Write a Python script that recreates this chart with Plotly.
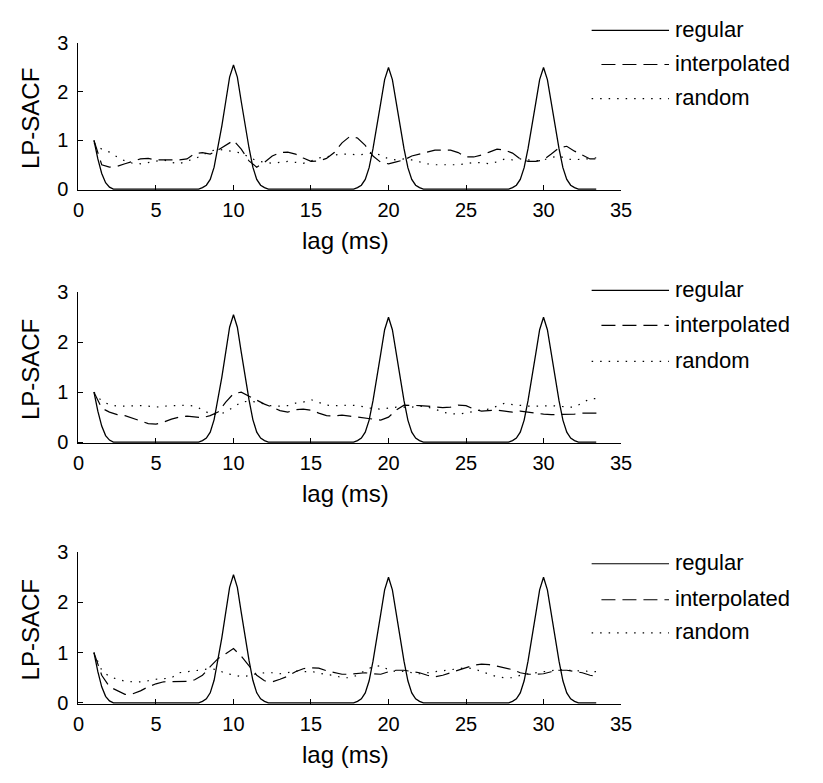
import plotly.graph_objects as go

W, H = 823, 783

# ---------------- data ----------------
# "regular" (same in all three panels)
reg_x = [1.0, 1.25, 1.5, 1.75, 2.0, 2.25,
         7.75, 8.0, 8.25, 8.5, 8.75, 9.0, 9.25, 9.5, 9.75, 10.0, 10.25, 10.5, 10.75, 11.0, 11.25, 11.5, 11.75, 12.0, 12.25,
         17.75, 18.0, 18.25, 18.5, 18.75, 19.0, 19.25, 19.5, 19.75, 20.0, 20.25, 20.5, 20.75, 21.0, 21.25, 21.5, 21.75, 22.0, 22.25,
         27.75, 28.0, 28.25, 28.5, 28.75, 29.0, 29.25, 29.5, 29.75, 30.0, 30.25, 30.5, 30.75, 31.0, 31.25, 31.5, 31.75, 32.0, 32.25,
         33.4]
reg_y = [1.0, 0.62, 0.32, 0.13, 0.04, 0.0,
         0.0, 0.03, 0.08, 0.2, 0.45, 0.85, 1.3, 1.8, 2.3, 2.55, 2.3, 1.8, 1.3, 0.85, 0.45, 0.2, 0.08, 0.03, 0.0,
         0.0, 0.03, 0.08, 0.2, 0.44, 0.83, 1.27, 1.77, 2.25, 2.5, 2.25, 1.77, 1.27, 0.83, 0.44, 0.2, 0.08, 0.03, 0.0,
         0.0, 0.03, 0.08, 0.2, 0.44, 0.83, 1.27, 1.77, 2.25, 2.5, 2.25, 1.77, 1.27, 0.83, 0.44, 0.2, 0.08, 0.03, 0.0,
         0.0]

lag = [1.0 + 0.5 * i for i in range(66)]  # 1.0 ... 33.5 ms

interp_1 = [1.0, 0.5, 0.45, 0.47, 0.52, 0.57, 0.62, 0.63, 0.6, 0.6,
            0.6, 0.6, 0.62, 0.73, 0.75, 0.72, 0.8, 0.9, 1.0, 0.82,
            0.58, 0.45, 0.55, 0.68, 0.75, 0.76, 0.72, 0.64, 0.57, 0.58,
            0.63, 0.75, 0.95, 1.08, 1.05, 0.9, 0.68, 0.55, 0.52, 0.56,
            0.6, 0.68, 0.72, 0.77, 0.8, 0.8, 0.8, 0.75, 0.66, 0.66,
            0.7, 0.76, 0.82, 0.8, 0.74, 0.62, 0.57, 0.57, 0.6, 0.72,
            0.85, 0.88, 0.78, 0.7, 0.62, 0.62]
random_1 = [0.95, 0.82, 0.76, 0.66, 0.58, 0.53, 0.52, 0.55, 0.58, 0.6,
            0.55, 0.52, 0.58, 0.62, 0.7, 0.78, 0.82, 0.8, 0.77, 0.74,
            0.66, 0.58, 0.55, 0.53, 0.55, 0.57, 0.55, 0.53, 0.58, 0.64,
            0.66, 0.7, 0.72, 0.72, 0.7, 0.72, 0.74, 0.7, 0.62, 0.6,
            0.62, 0.6, 0.56, 0.52, 0.5, 0.5, 0.5, 0.5, 0.52, 0.55,
            0.54, 0.52, 0.56, 0.62, 0.6, 0.62, 0.6, 0.58, 0.6, 0.65,
            0.68, 0.62, 0.6, 0.62, 0.62, 0.65]

interp_2 = [1.0, 0.68, 0.6, 0.55, 0.53, 0.48, 0.42, 0.37, 0.36, 0.4,
            0.46, 0.5, 0.52, 0.5, 0.49, 0.53, 0.6, 0.8, 0.97, 1.0,
            0.92, 0.84, 0.76, 0.7, 0.63, 0.6, 0.65, 0.66, 0.64, 0.58,
            0.53, 0.52, 0.54, 0.52, 0.5, 0.47, 0.45, 0.44, 0.5, 0.64,
            0.74, 0.74, 0.73, 0.72, 0.71, 0.69, 0.7, 0.74, 0.73, 0.66,
            0.62, 0.63, 0.64, 0.62, 0.6, 0.62, 0.6, 0.57, 0.56, 0.55,
            0.55, 0.55, 0.56, 0.58, 0.58, 0.58]
random_2 = [1.0, 0.82, 0.75, 0.72, 0.72, 0.73, 0.73, 0.72, 0.7, 0.72,
            0.73, 0.73, 0.74, 0.72, 0.65, 0.56, 0.55, 0.6, 0.7, 0.8,
            0.82, 0.8, 0.76, 0.72, 0.72, 0.73, 0.78, 0.8, 0.85, 0.8,
            0.74, 0.73, 0.74, 0.74, 0.73, 0.7, 0.67, 0.66, 0.68, 0.7,
            0.7, 0.7, 0.72, 0.7, 0.66, 0.6, 0.57, 0.56, 0.58, 0.62,
            0.65, 0.66, 0.72, 0.78, 0.75, 0.73, 0.72, 0.72, 0.73, 0.73,
            0.72, 0.7, 0.7, 0.78, 0.87, 0.87]

interp_3 = [1.0, 0.55, 0.32, 0.24, 0.17, 0.18, 0.24, 0.32, 0.38, 0.42,
            0.42, 0.42, 0.43, 0.46, 0.55, 0.72, 0.88, 0.98, 1.08, 0.93,
            0.75, 0.55, 0.44, 0.42, 0.47, 0.53, 0.62, 0.68, 0.7, 0.69,
            0.64, 0.6, 0.57, 0.57, 0.58, 0.6, 0.58, 0.57, 0.62, 0.65,
            0.65, 0.63, 0.6, 0.55, 0.52, 0.55, 0.6, 0.65, 0.7, 0.75,
            0.77, 0.76, 0.73, 0.7, 0.66, 0.6, 0.57, 0.57, 0.58, 0.62,
            0.65, 0.65, 0.62, 0.6, 0.55, 0.52]
random_3 = [1.0, 0.65, 0.52, 0.47, 0.43, 0.42, 0.42, 0.44, 0.47, 0.48,
            0.5, 0.6, 0.62, 0.63, 0.66, 0.68, 0.66, 0.58, 0.56, 0.52,
            0.54, 0.58, 0.6, 0.6, 0.58, 0.6, 0.64, 0.62, 0.63, 0.6,
            0.56, 0.55, 0.5, 0.5, 0.55, 0.65, 0.72, 0.74, 0.66, 0.62,
            0.63, 0.6, 0.58, 0.6, 0.62, 0.65, 0.66, 0.68, 0.7, 0.68,
            0.62, 0.57, 0.52, 0.5, 0.5, 0.55, 0.58, 0.6, 0.62, 0.65,
            0.66, 0.65, 0.64, 0.64, 0.62, 0.62]

series_names = ["regular", "interpolated", "random"]
x_ticks = [0, 5, 10, 15, 20, 25, 30, 35]
y_ticks = [0, 1, 2, 3]
x_title = "lag (ms)"
y_title = "LP-SACF"

panels = [(interp_1, random_1), (interp_2, random_2), (interp_3, random_3)]

# ---------------- layout geometry (pixels) ----------------
FONT = "Liberation Sans, Arial, sans-serif"
plot_left, plot_right = 74, 628
panel_px = [(33, 184), (289, 444), (556, 712)]          # (top, bottom)
legend_px = [(20, 55, 90), (287, 323, 360), (568, 605, 639)]
leg_x0, leg_x1, leg_text_x = 598, 677, 681

def px_x(p):
    return p / W

def px_y(p):
    return 1 - p / H

DASH = "14px,7px"
DOT = "1.5px,7px"

fig = go.Figure()
layout = dict(
    width=W, height=H,
    margin=dict(l=0, r=0, t=0, b=0),
    paper_bgcolor="white", plot_bgcolor="white",
    showlegend=False,
    font=dict(family=FONT, color="black"),
)
shapes, annotations = [], []

for i, (interp, rnd) in enumerate(panels):
    n = "" if i == 0 else str(i + 1)
    xa, ya = "x" + n, "y" + n
    fig.add_trace(go.Scatter(x=reg_x, y=reg_y, xaxis=xa, yaxis=ya, mode="lines",
                             name=series_names[0], line=dict(color="black", width=1.3)))
    fig.add_trace(go.Scatter(x=lag, y=interp, xaxis=xa, yaxis=ya, mode="lines",
                             name=series_names[1], line=dict(color="black", width=1.2, dash=DASH)))
    fig.add_trace(go.Scatter(x=lag, y=rnd, xaxis=xa, yaxis=ya, mode="lines",
                             name=series_names[2], line=dict(color="black", width=1.2, dash=DOT)))
    top, bot = panel_px[i]
    layout["xaxis" + n] = dict(
        domain=[px_x(plot_left), px_x(plot_right)], anchor=ya, range=[0, 35],
        tickvals=x_ticks, ticks="inside", ticklen=5, tickcolor="black",
        showline=True, linecolor="black", linewidth=1, showgrid=False, zeroline=False,
        tickfont=dict(size=20, family=FONT), ticklabelstandoff=2,
    )
    layout["yaxis" + n] = dict(
        domain=[px_y(bot), px_y(top)], anchor=xa, range=[-0.02, 3],
        tickvals=y_ticks, ticks="inside", ticklen=5, tickcolor="black",
        showline=True, linecolor="black", linewidth=1, showgrid=False, zeroline=False,
        tickfont=dict(size=20, family=FONT), ticklabelstandoff=5,
    )
    # axis titles
    annotations.append(dict(text=x_title, xref="paper", yref="paper",
                            x=px_x(347), y=px_y(bot + 52), xanchor="center", yanchor="middle",
                            showarrow=False, font=dict(size=24, family=FONT)))
    annotations.append(dict(text=y_title, xref="paper", yref="paper", textangle=-90,
                            x=px_x(25), y=px_y((top + bot) / 2 + 2), xanchor="center", yanchor="middle",
                            showarrow=False, font=dict(size=24, family=FONT)))
    # legend
    for name, ly, dash in zip(series_names, legend_px[i], ["solid", DASH, DOT]):
        x0 = leg_x0 if name != "interpolated" else leg_x0 + 10
        shapes.append(dict(type="line", xref="paper", yref="paper",
                           x0=px_x(x0), x1=px_x(leg_x1), y0=px_y(ly), y1=px_y(ly),
                           line=dict(color="black", width=1.2, dash=dash)))
        annotations.append(dict(text=name, xref="paper", yref="paper",
                                x=px_x(leg_text_x), y=px_y(ly - 1), xanchor="left", yanchor="middle",
                                showarrow=False, font=dict(size=22, family=FONT)))

layout["shapes"] = shapes
layout["annotations"] = annotations
fig.update_layout(**layout)
fig.write_html("out.html")
